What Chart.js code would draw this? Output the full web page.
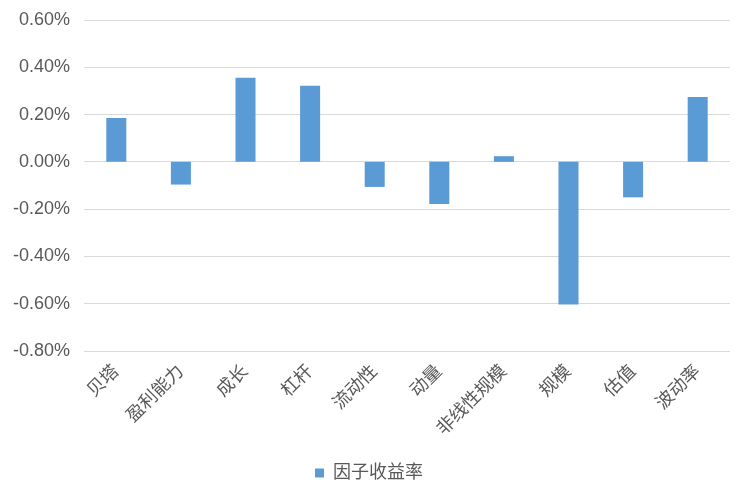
<!DOCTYPE html>
<html>
<head>
<meta charset="utf-8">
<script src="https://cdn.jsdelivr.net/npm/chart.js@4.4.1/dist/chart.umd.min.js"></script>
<style>
  html, body { margin: 0; padding: 0; background: #ffffff; }
  #wrap { width: 738px; height: 489px; }
</style>
</head>
<body>
<div id="wrap"><canvas id="myChart" width="738" height="489"></canvas></div>
<script>
document.addEventListener('DOMContentLoaded', function() {

  // factor returns, in percent
  var factors = ["贝塔", "盈利能力", "成长", "杠杆", "流动性", "动量", "非线性规模", "规模", "估值", "波动率"];
  var factorReturns = [0.186, -0.096, 0.356, 0.322, -0.106, -0.178, 0.024, -0.603, -0.150, 0.274];
  var seriesName = "因子收益率";
  var yMin = -0.8;
  var yMax = 0.6;
  var yStep = 0.2;

  var textColor = "#595959";
  var cjkFont = "'Liberation Sans', 'Noto Sans CJK SC', sans-serif";

  new Chart("myChart", {
    type: "bar",
    data: {
      labels: factors,
      datasets: [{
        label: seriesName,
        data: factorReturns,
        backgroundColor: "#5b9bd5",
        barPercentage: 0.62,
        categoryPercentage: 0.5
      }]
    },
    options: {
      responsive: false,
      animation: false,
      layout: {
        padding: { top: 20, right: 8, left: 8, bottom: -3 }
      },
      plugins: {
        tooltip: { enabled: false },
        legend: {
          display: true,
          position: 'bottom',
          labels: {
            color: textColor,
            boxWidth: 9,
            boxHeight: 9,
            padding: 3,
            font: { family: cjkFont, size: 18 }
          }
        }
      },
      scales: {
        x: {
          grid: { display: false },
          border: { display: false },
          ticks: {
            autoSkip: false,
            maxRotation: 45,
            minRotation: 45,
            color: textColor,
            padding: 2,
            font: { family: cjkFont, size: 18 }
          },
          afterFit: function(scale) { scale.height = 110; }
        },
        y: {
          min: yMin,
          max: yMax,
          grid: { color: "#d9d9d9", lineWidth: 1, drawTicks: false },
          border: { display: false },
          ticks: {
            stepSize: yStep,
            padding: 14,
            color: textColor,
            font: { family: cjkFont, size: 18 },
            callback: function(value) {
              if (Math.abs(value) < 1e-9) value = 0;
              return value.toFixed(2) + '%';
            }
          },
          afterFit: function(scale) {
            scale.width = 76;
            scale.paddingTop = 0;
            scale.paddingBottom = 0;
          }
        }
      }
    }
  });
});
</script>
</body>
</html>
